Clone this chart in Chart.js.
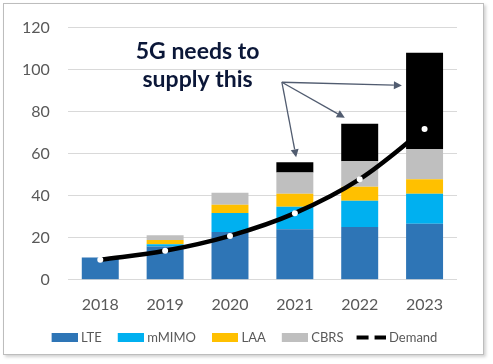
<!DOCTYPE html>
<html>
<head>
<meta charset="utf-8">
<script src="https://cdn.jsdelivr.net/npm/chart.js@4"></script>
<style>
  html, body { margin: 0; padding: 0; background: #fff; }
  #frame {
    position: absolute; left: 3px; top: 3px; width: 479px; height: 350px;
    border: 1px solid #bdbdbd; box-shadow: 2px 2px 3px rgba(0,0,0,0.18); background: #fff;
  }
  #wrap { position: absolute; left: 0; top: 0; width: 493px; height: 364px; }
</style>
</head>
<body>
<div id="frame"></div>
<div id="wrap"><canvas id="chart"></canvas></div>
<script>
const years = ["2018", "2019", "2020", "2021", "2022", "2023"];
const lte = [10.6, 15.9, 22.8, 24.1, 25.1, 26.7];
const mmimo = [0, 1.0, 9.0, 10.6, 12.5, 14.3];
const laa = [0, 2.0, 3.9, 6.3, 6.7, 6.9];
const cbrs = [0, 2.3, 5.7, 10.1, 12.1, 14.3];
const gap = [0, 0, 0, 4.8, 17.8, 45.8];
const demand = [9.5, 13.8, 20.9, 31.7, 47.9, 71.7];

// annotation, in category index / value units
const noteLines = ["5G needs to", "supply this"];
const noteAt = [1.5, 105, 91.5];
const arrowFrom = [2.8, 94];
const arrowTips = [[3.02, 58.3], [3.77, 77.1], [4.65, 92.5]];

// legend swatch: 26x9 mark drawn inside a wider transparent canvas so that
// the gaps around it match the picture (item box is 37 wide, mark at 14..40)
function swatch(color, dashed) {
    const c = document.createElement('canvas');
    c.width = 43; c.height = 9;
    const g = c.getContext('2d');
    const o = 17;
    if (dashed) {
        g.fillStyle = '#000';
        g.fillRect(o - 3, 2.5, 12, 4);
        g.fillRect(o + 15, 2.5, 11, 4);
    } else {
        g.fillStyle = color;
        g.fillRect(o, 0, 26, 9);
    }
    return c;
}

const notePlugin = {
    id: 'note',
    afterLayout(chart) {
        // legend sits a little right of the plot's centre in the picture
        chart.legend.left += 7;
        chart.legend.right += 7;
    },
    afterDatasetsDraw(chart) {
        const ctx = chart.ctx, x = chart.scales.x, y = chart.scales.y;
        ctx.save();
        ctx.fillStyle = '#0b1738';
        ctx.font = 'bold 23px Lato';
        ctx.textAlign = 'center';
        ctx.textBaseline = 'alphabetic';
        ctx.fillText(noteLines[0], x.getPixelForValue(noteAt[0]), y.getPixelForValue(noteAt[1]));
        ctx.fillText(noteLines[1], x.getPixelForValue(noteAt[0]), y.getPixelForValue(noteAt[2]));

        const ox = x.getPixelForValue(arrowFrom[0]), oy = y.getPixelForValue(arrowFrom[1]);
        ctx.strokeStyle = '#515c70';
        ctx.fillStyle = '#515c70';
        ctx.lineWidth = 1.3;
        arrowTips.forEach(t => {
            const tx = x.getPixelForValue(t[0]), ty = y.getPixelForValue(t[1]);
            const a = Math.atan2(ty - oy, tx - ox);
            const hl = 8, hw = 4;
            const bx = tx - hl * Math.cos(a), by = ty - hl * Math.sin(a);
            ctx.beginPath();
            ctx.moveTo(ox, oy);
            ctx.lineTo(bx, by);
            ctx.stroke();
            ctx.beginPath();
            ctx.moveTo(tx, ty);
            ctx.lineTo(bx + hw * Math.sin(a), by - hw * Math.cos(a));
            ctx.lineTo(bx - hw * Math.sin(a), by + hw * Math.cos(a));
            ctx.closePath();
            ctx.fill();
        });
        ctx.restore();
    }
};

const barStyle = { stack: 's', order: 1, borderWidth: 0, categoryPercentage: 1, barPercentage: 0.57 };

new Chart(document.getElementById('chart'), {
    data: {
        labels: years,
        datasets: [
            { type: 'bar', label: 'LTE', data: lte, backgroundColor: '#2e75b6', ...barStyle },
            { type: 'bar', label: 'mMIMO', data: mmimo, backgroundColor: '#00b0f0', ...barStyle },
            { type: 'bar', label: 'LAA', data: laa, backgroundColor: '#ffc000', ...barStyle },
            { type: 'bar', label: 'CBRS', data: cbrs, backgroundColor: '#bfbfbf', ...barStyle },
            { type: 'bar', label: 'Gap', data: gap, backgroundColor: '#000000', ...barStyle },
            {
                type: 'line', label: 'Demand', data: demand, stack: 'd', order: 0,
                borderColor: '#000', borderWidth: 4.5, tension: 0.35,
                pointRadius: 3, pointBackgroundColor: '#fff', pointBorderWidth: 0
            }
        ]
    },
    options: {
        responsive: true,
        maintainAspectRatio: false,
        animation: false,
        layout: { padding: { left: 4, right: 36, top: 27, bottom: 10 } },
        plugins: {
            tooltip: { enabled: false },
            legend: {
                position: 'bottom',
                labels: {
                    usePointStyle: true,
                    pointStyleWidth: 37,
                    boxHeight: 9,
                    padding: 2,
                    color: '#595959',
                    font: { family: 'Lato', size: 13 },
                    generateLabels(chart) {
                        return chart.data.datasets
                            .map((d, i) => ({ d, i }))
                            .filter(o => o.d.label !== 'Gap')
                            .map(o => ({
                                text: o.d.label,
                                datasetIndex: o.i,
                                fontColor: '#595959',
                                pointStyle: swatch(o.d.backgroundColor, o.d.type === 'line'),
                                lineWidth: 0,
                                hidden: false
                            }));
                    }
                }
            }
        },
        scales: {
            x: {
                stacked: true,
                grid: { display: false, drawTicks: false },
                border: { display: false },
                ticks: { color: '#595959', font: { family: 'Lato', size: 16 }, padding: 15 }
            },
            y: {
                stacked: true,
                min: 0, max: 120,
                ticks: { stepSize: 20, color: '#595959', font: { family: 'Lato', size: 16 }, padding: 18 },
                grid: { color: '#d9d9d9', drawTicks: false },
                border: { display: false }
            }
        }
    },
    plugins: [notePlugin]
});
</script>
</body>
</html>
